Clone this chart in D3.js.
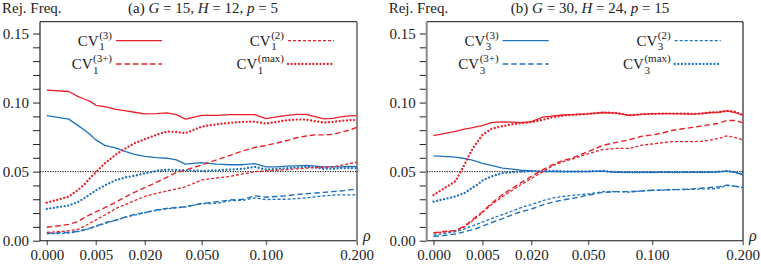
<!DOCTYPE html>
<html><head><meta charset="utf-8">
<script src="https://cdn.jsdelivr.net/npm/d3@7"></script>
<style>
body{margin:0;background:#fff}
svg{display:block}
</style>
</head><body>
<svg id="c" width="761" height="264" font-family="'Liberation Serif','DejaVu Serif',serif"></svg>
<script>
// ---- data ----
const rho = [0,0.001,0.002,0.003,0.004,0.005,0.007,0.01,0.013,0.016,0.02,0.025,0.03,0.035,0.04,0.05,0.06,0.07,0.08,0.09,0.1,0.11,0.12,0.13,0.14,0.15,0.16,0.17,0.18,0.19,0.2];
const xTickValues = [0, 0.005, 0.02, 0.05, 0.1, 0.2];
const yTickValues = [0, 0.05, 0.10, 0.15];

// panel (a) G=15, H=12, p=5
const aRed3   = [0.109,0.108,0.1045,0.1024,0.1007,0.098,0.097,0.095,0.094,0.093,0.0918,0.092,0.0925,0.0913,0.088,0.0908,0.0908,0.0913,0.0913,0.0913,0.0884,0.0896,0.0908,0.0915,0.0915,0.0899,0.0882,0.0886,0.0896,0.0903,0.0906];
const aRedMax = [0.0275,0.0319,0.0367,0.041,0.0459,0.0495,0.056,0.0625,0.067,0.0705,0.0735,0.0766,0.079,0.0787,0.0778,0.0826,0.0843,0.0853,0.086,0.0862,0.0848,0.086,0.0872,0.0877,0.0877,0.0865,0.0855,0.086,0.0867,0.0872,0.0874];
const aRed3p  = [0.0097,0.0118,0.0138,0.0169,0.019,0.0208,0.0239,0.028,0.0319,0.035,0.0384,0.0423,0.0459,0.0493,0.0512,0.0548,0.0585,0.0618,0.065,0.0675,0.069,0.0707,0.0725,0.0745,0.0758,0.0766,0.0766,0.077,0.0785,0.080,0.082];
const aRed2   = [0.006,0.0072,0.0082,0.0106,0.013,0.015,0.0186,0.0234,0.0263,0.029,0.0321,0.0343,0.036,0.0374,0.039,0.044,0.0454,0.0466,0.0483,0.05,0.0505,0.051,0.0515,0.052,0.0525,0.053,0.053,0.0535,0.0545,0.0557,0.0568];
const aBlue3   = [0.0905,0.088,0.0835,0.080,0.0765,0.073,0.069,0.067,0.0645,0.0625,0.061,0.0602,0.0597,0.0585,0.0555,0.0565,0.0555,0.055,0.055,0.0558,0.0535,0.0535,0.054,0.0542,0.0545,0.054,0.0535,0.0535,0.0535,0.0537,0.0536];
const aBlueMax = [0.023,0.0255,0.028,0.031,0.034,0.0365,0.040,0.044,0.0459,0.047,0.0488,0.0505,0.0515,0.0512,0.051,0.0505,0.051,0.0515,0.052,0.0535,0.0515,0.052,0.0525,0.053,0.0535,0.053,0.052,0.052,0.0525,0.0525,0.0525];
const aBlue3p  = [0.0055,0.006,0.0068,0.008,0.0093,0.0105,0.013,0.015,0.0172,0.019,0.0205,0.0222,0.0234,0.024,0.0245,0.027,0.0282,0.0295,0.030,0.0325,0.0315,0.032,0.0325,0.0335,0.034,0.0345,0.035,0.0355,0.036,0.0368,0.0372];
const aBlue2   = [0.005,0.0055,0.0065,0.0078,0.009,0.0103,0.0125,0.0148,0.017,0.0185,0.0202,0.022,0.023,0.0238,0.0245,0.0268,0.027,0.029,0.0292,0.031,0.0298,0.030,0.030,0.0305,0.031,0.0318,0.0325,0.033,0.0332,0.0332,0.0332];

// panel (b) G=30, H=24, p=15
const bRed3   = [0.0761,0.0792,0.0807,0.0816,0.0826,0.0833,0.0855,0.086,0.0858,0.0855,0.0862,0.0894,0.0903,0.091,0.0912,0.0918,0.0928,0.0923,0.0908,0.0915,0.092,0.092,0.092,0.0918,0.0916,0.092,0.0928,0.093,0.094,0.0928,0.091];
const bRedMax = [0.0331,0.043,0.055,0.065,0.0715,0.0765,0.081,0.083,0.0843,0.085,0.0858,0.0875,0.0895,0.0905,0.091,0.0918,0.0928,0.0925,0.0908,0.0915,0.0918,0.092,0.092,0.092,0.0918,0.092,0.0928,0.093,0.094,0.0935,0.091];
const bRed3p  = [0.0058,0.0075,0.0105,0.0145,0.018,0.021,0.027,0.0335,0.038,0.042,0.0465,0.0515,0.0552,0.058,0.0597,0.0645,0.069,0.0712,0.073,0.0755,0.0765,0.078,0.080,0.081,0.082,0.083,0.084,0.085,0.087,0.087,0.0855];
const bRed2   = [0.0055,0.0072,0.010,0.0138,0.0172,0.0205,0.026,0.032,0.0365,0.0405,0.045,0.050,0.0545,0.0572,0.059,0.063,0.066,0.0668,0.0668,0.069,0.070,0.071,0.0717,0.0717,0.0717,0.072,0.0728,0.074,0.0758,0.0748,0.073];
const bBlue3   = [0.0614,0.0605,0.0595,0.0585,0.0572,0.056,0.0545,0.0525,0.0518,0.051,0.0505,0.050,0.0502,0.050,0.0502,0.050,0.0503,0.0495,0.0495,0.0495,0.0495,0.0495,0.0495,0.0495,0.0495,0.0495,0.0495,0.0498,0.0503,0.0495,0.0478];
const bBlueMax = [0.0283,0.032,0.0345,0.038,0.0405,0.0435,0.0465,0.049,0.0495,0.050,0.0503,0.0503,0.0505,0.0502,0.050,0.0503,0.0505,0.0497,0.0495,0.0495,0.0495,0.0497,0.0497,0.0497,0.0497,0.0497,0.0497,0.050,0.0505,0.0497,0.048];
const bBlue2   = [0.0041,0.0065,0.0085,0.0105,0.012,0.0135,0.016,0.019,0.0215,0.024,0.0262,0.029,0.031,0.032,0.0328,0.0338,0.0355,0.0355,0.0352,0.036,0.0365,0.0365,0.037,0.037,0.0372,0.0375,0.0375,0.038,0.040,0.0395,0.0385];
const bBlue3p  = [0.003,0.0048,0.0065,0.0078,0.009,0.0105,0.013,0.016,0.0188,0.021,0.0228,0.026,0.028,0.0295,0.0305,0.033,0.035,0.0355,0.0355,0.036,0.0365,0.0368,0.037,0.0372,0.0375,0.038,0.0385,0.039,0.0402,0.0395,0.0385];

// ---- drawing ----
const FONT = "'Liberation Serif','DejaVu Serif',serif";
const INK = '#222';
const RED = '#e8202a', BLUE = '#1f73be';
const STY = {
  s3:  {dash: null,        w: 1.3, cap: 'butt'},
  s3p: {dash: '5.5,3',     w: 1.4, cap: 'butt'},
  s2:  {dash: '3,2',       w: 1.3, cap: 'butt'},
  max: {dash: '0.01,3.6',  w: 2.3, cap: 'round'}
};
const svg = d3.select('#c');
const Y_TOP = 21.7, Y_BOT = 240.7;

function txt(sel) { return sel.attr('font-family', FONT).attr('fill', INK); }

function panel(cfg) {
  const x = d3.scaleSqrt().domain([0, 0.2]).range([cfg.fl + 6.8, cfg.fr - 0.3]);
  const y = d3.scaleLinear().domain([0, 0.15]).range([Y_BOT, 33.5]);
  const g = svg.append('g');

  // y axis with minor ticks
  const ya = g.append('g').attr('transform', `translate(${cfg.fl},0)`)
    .call(d3.axisLeft(y).tickValues(d3.range(0, 0.1501, 0.01)).tickSize(7).tickPadding(4)
      .tickFormat(d => yTickValues.some(v => Math.abs(v - d) < 1e-6) ? d3.format('.2f')(d) : ''));
  ya.attr('font-family', FONT).attr('font-size', 15);
  ya.select('.domain').remove();
  ya.selectAll('line').attr('stroke', '#222');
  txt(ya.selectAll('text'));

  // x axis
  const xa = g.append('g').attr('transform', `translate(0,${Y_BOT})`)
    .call(d3.axisBottom(x).tickValues(xTickValues).tickSize(4.5).tickPadding(4).tickFormat(d3.format('.3f')));
  xa.attr('font-family', FONT).attr('font-size', 15);
  xa.select('.domain').remove();
  xa.selectAll('line').attr('stroke', '#777').attr('stroke-width', 1.5);
  txt(xa.selectAll('text'));

  // frame
  g.append('line').attr('x1', cfg.fl).attr('x2', cfg.fr).attr('y1', Y_TOP).attr('y2', Y_TOP).attr('stroke', '#111').attr('stroke-width', 1);
  g.append('line').attr('x1', cfg.fl).attr('x2', cfg.fr).attr('y1', Y_BOT).attr('y2', Y_BOT).attr('stroke', '#111').attr('stroke-width', 1.1);
  g.append('line').attr('x1', cfg.fl).attr('x2', cfg.fl).attr('y1', Y_TOP).attr('y2', Y_BOT)
    .attr('stroke', cfg.leftGray ? '#8a8a8a' : '#111').attr('stroke-width', cfg.leftGray ? 2 : 1.1);
  g.append('line').attr('x1', cfg.fr).attr('x2', cfg.fr).attr('y1', Y_TOP).attr('y2', Y_BOT)
    .attr('stroke', cfg.leftGray ? '#111' : '#8a8a8a').attr('stroke-width', cfg.leftGray ? 1.1 : 2);

  // reference line at 0.05
  g.append('line').attr('x1', cfg.fl).attr('x2', cfg.fr).attr('y1', y(0.05)).attr('y2', y(0.05))
    .attr('stroke', '#000').attr('stroke-width', 1).attr('stroke-dasharray', '1.2,1.3');

  // series
  const line = d3.line().x((d, i) => x(rho[i])).y(d => y(d));
  cfg.series.forEach(s => {
    const st = STY[s.style];
    g.append('path').datum(s.data).attr('d', line).attr('fill', 'none')
      .attr('stroke', s.color).attr('stroke-width', st.w).attr('stroke-linecap', st.cap)
      .attr('stroke-linejoin', 'round')
      .attr('stroke-dasharray', st.dash);
  });

  // header texts
  txt(g.append('text')).attr('x', cfg.fl - 38).attr('y', 13).attr('font-size', 15).text('Rej. Freq.');
  const t = txt(g.append('text')).attr('x', cfg.titleX).attr('y', 13).attr('font-size', 15).attr('text-anchor', 'middle');
  cfg.title.forEach(p => t.append('tspan').attr('font-style', p.i ? 'italic' : 'normal').text(p.t));

  // rho label
  txt(g.append('text')).attr('x', cfg.fr + 6).attr('y', 241).attr('font-size', 16).attr('font-style', 'italic').text('ρ');

  // legend
  const colX = [cfg.fl + 76, cfg.fl + 248];
  const rowY = [40.7, 64];
  cfg.legend.forEach(L => {
    const lx = colX[L.col], ly = rowY[L.row];
    const st = STY[L.style];
    g.append('line').attr('x1', lx).attr('x2', lx + 46).attr('y1', ly).attr('y2', ly)
      .attr('stroke', cfg.legendColor).attr('stroke-width', st.w).attr('stroke-linecap', st.cap)
      .attr('stroke-dasharray', st.dash);
    const lg = g.append('g');
    const cv = txt(lg.append('text')).attr('y', ly + 5).attr('font-size', 15).text('CV');
    const sub = txt(lg.append('text')).attr('y', ly + 9.5).attr('font-size', 11).text(cfg.sub);
    const sup = txt(lg.append('text')).attr('y', ly - 2.2).attr('font-size', 11).text(L.sup);
    const wcv = cv.node().getComputedTextLength();
    const wsub = sub.node().getComputedTextLength();
    const wsup = sup.node().getComputedTextLength();
    const total = wcv + 0.5 + Math.max(wsub, wsup);
    const x0 = lx - 4 - total;
    cv.attr('x', x0);
    sub.attr('x', x0 + wcv + 0.5);
    sup.attr('x', x0 + wcv + 0.5);
  });
}

panel({
  fl: 40, fr: 357, leftGray: false, titleX: 203,
  title: [{t: '(a) '}, {t: 'G', i: 1}, {t: ' = 15, '}, {t: 'H', i: 1}, {t: ' = 12, '}, {t: 'p', i: 1}, {t: ' = 5'}],
  sub: '1', legendColor: RED,
  legend: [
    {row: 0, col: 0, sup: '(3)', style: 's3'},
    {row: 1, col: 0, sup: '(3+)', style: 's3p'},
    {row: 0, col: 1, sup: '(2)', style: 's2'},
    {row: 1, col: 1, sup: '(max)', style: 'max'}
  ],
  series: [
    {data: aBlue2, color: BLUE, style: 's2'},
    {data: aBlue3p, color: BLUE, style: 's3p'},
    {data: aBlueMax, color: BLUE, style: 'max'},
    {data: aBlue3, color: BLUE, style: 's3'},
    {data: aRed2, color: RED, style: 's2'},
    {data: aRed3p, color: RED, style: 's3p'},
    {data: aRedMax, color: RED, style: 'max'},
    {data: aRed3, color: RED, style: 's3'}
  ]
});

panel({
  fl: 426.7, fr: 743, leftGray: true, titleX: 590,
  title: [{t: '(b) '}, {t: 'G', i: 1}, {t: ' = 30, '}, {t: 'H', i: 1}, {t: ' = 24, '}, {t: 'p', i: 1}, {t: ' = 15'}],
  sub: '3', legendColor: BLUE,
  legend: [
    {row: 0, col: 0, sup: '(3)', style: 's3'},
    {row: 1, col: 0, sup: '(3+)', style: 's3p'},
    {row: 0, col: 1, sup: '(2)', style: 's2'},
    {row: 1, col: 1, sup: '(max)', style: 'max'}
  ],
  series: [
    {data: bBlue2, color: BLUE, style: 's2'},
    {data: bBlue3p, color: BLUE, style: 's3p'},
    {data: bBlueMax, color: BLUE, style: 'max'},
    {data: bBlue3, color: BLUE, style: 's3'},
    {data: bRed2, color: RED, style: 's2'},
    {data: bRed3p, color: RED, style: 's3p'},
    {data: bRedMax, color: RED, style: 'max'},
    {data: bRed3, color: RED, style: 's3'}
  ]
});
</script>
</body></html>
